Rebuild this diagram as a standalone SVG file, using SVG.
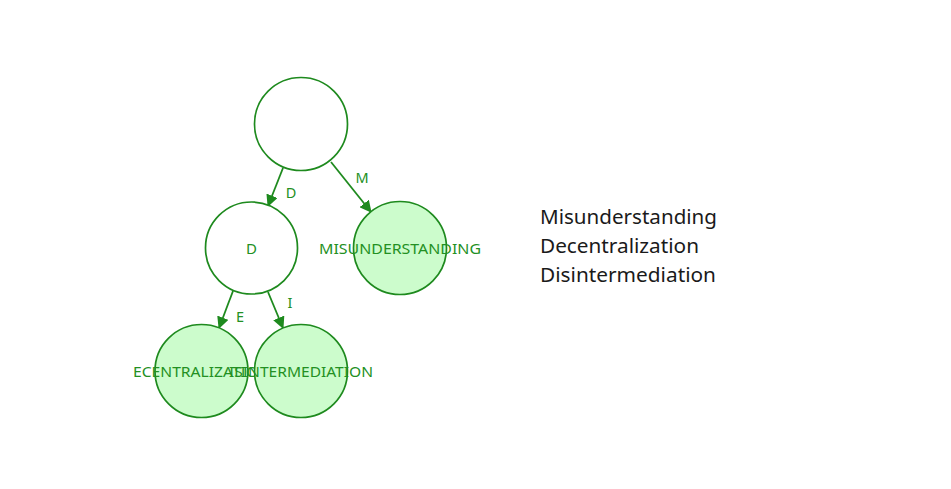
<svg xmlns="http://www.w3.org/2000/svg" width="951" height="489" viewBox="0 0 951 489">
<style>
.node{stroke:#1e8a1e;stroke-width:1.7}
.inner{fill:#ffffff}
.leaf{fill:#ccfccc}
.lbl{font-family:"Noto Sans","Open Sans",sans-serif;font-size:15px;fill:#239023;text-anchor:middle;dominant-baseline:central}
.edge{stroke:#1e8a1e;stroke-width:1.8;fill:none}
.elbl{font-family:"Noto Sans","Open Sans",sans-serif;font-size:14.5px;fill:#239023;text-anchor:middle;dominant-baseline:central}
.side{font-family:"Noto Sans","Open Sans",sans-serif;font-size:19.5px;fill:#1a1a1a}
</style>
<defs>
<marker id="arr" markerWidth="12" markerHeight="12" refX="11" refY="6" orient="auto" markerUnits="userSpaceOnUse" viewBox="0 0 12 12">
<path d="M0,0 L12,6 L0,12 z" fill="#1e8a1e"/>
</marker>
</defs>
<rect width="951" height="489" fill="#ffffff"/>
<g id="connectors">
<line class="edge" x1="283" y1="168" x2="268" y2="206" marker-end="url(#arr)"/>
<line class="edge" x1="331" y1="162" x2="371" y2="212" marker-end="url(#arr)"/>
<line class="edge" x1="233" y1="291" x2="219" y2="328" marker-end="url(#arr)"/>
<line class="edge" x1="268" y1="292" x2="283" y2="328" marker-end="url(#arr)"/>
<text class="elbl" x="291" y="192">D</text>
<text class="elbl" x="362" y="177">M</text>
<text class="elbl" x="240" y="316">E</text>
<text class="elbl" x="290" y="302">I</text>
</g>
<g id="node-root"><circle class="node inner" cx="301" cy="124" r="46.5"/></g>
<g id="node-D"><circle class="node inner" cx="251.5" cy="248" r="46"/><text class="lbl" x="251.5" y="248">D</text></g>
<g id="node-M"><circle class="node leaf" cx="400" cy="248" r="46.5"/><text class="lbl" x="400" y="248" textLength="162" lengthAdjust="spacingAndGlyphs">MISUNDERSTANDING</text></g>
<g id="node-E"><circle class="node leaf" cx="201.5" cy="371" r="46.5"/><text class="lbl" x="201.5" y="371" textLength="137" lengthAdjust="spacingAndGlyphs">ECENTRALIZATION</text></g>
<g id="node-I"><circle class="node leaf" cx="301" cy="371" r="46.5"/><text class="lbl" x="301" y="371" textLength="144" lengthAdjust="spacingAndGlyphs">ISINTERMEDIATION</text></g>
<g id="legend">
<text class="side" x="540" y="224" textLength="177" lengthAdjust="spacingAndGlyphs">Misunderstanding</text>
<text class="side" x="540" y="253" textLength="159" lengthAdjust="spacingAndGlyphs">Decentralization</text>
<text class="side" x="540" y="282" textLength="176" lengthAdjust="spacingAndGlyphs">Disintermediation</text>
</g>
</svg>
